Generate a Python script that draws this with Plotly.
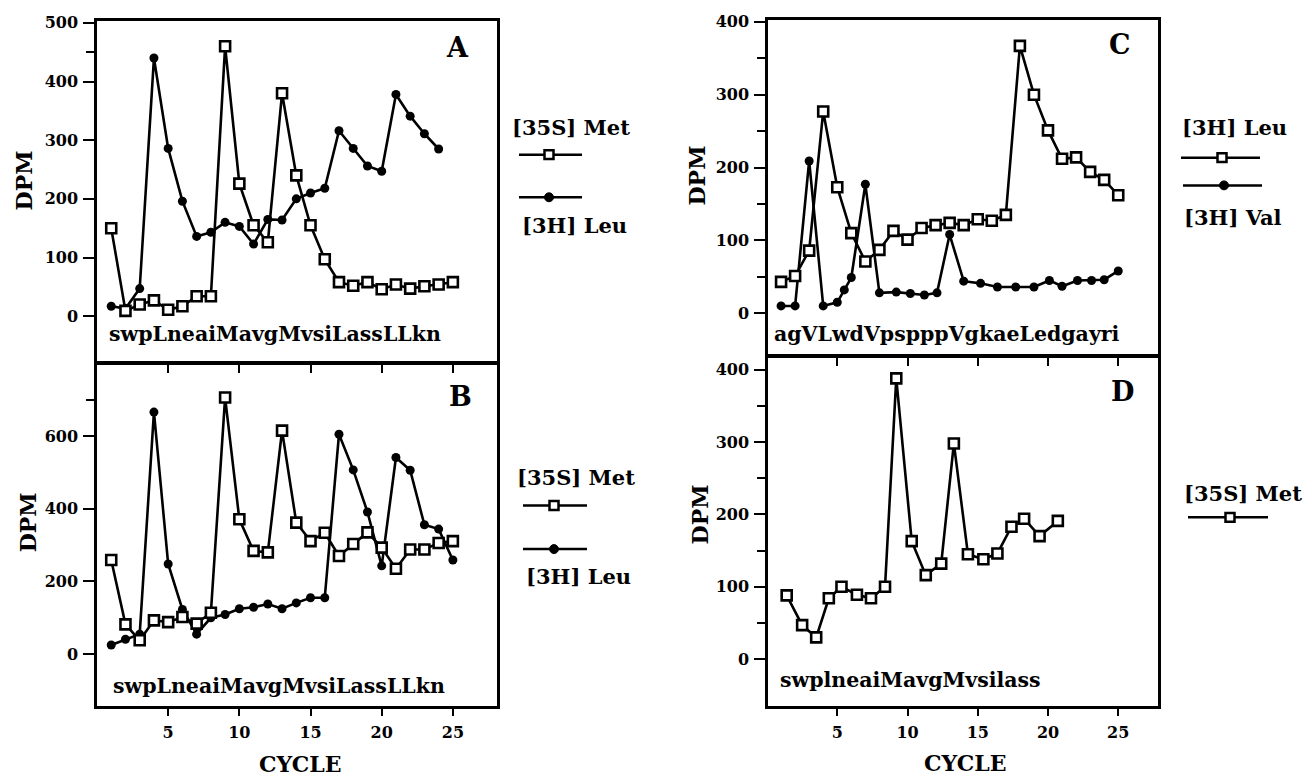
import plotly.graph_objects as go

W, H = 1312, 778
FONT = "DejaVu Serif"

# ---------------- data ----------------
# Panel A
a_met_cycle = list(range(1, 26))
a_met_dpm = [150, 9, 20, 27, 11, 17, 34, 34, 460, 226, 155, 126, 380, 240, 155, 97,
             58, 52, 58, 46, 54, 47, 51, 54, 58]
a_leu_cycle = list(range(1, 25))
a_leu_dpm = [17, 13, 47, 440, 286, 196, 136, 143, 160, 153, 123, 165, 164, 200, 210,
             218, 316, 286, 256, 247, 378, 341, 311, 285]
# Panel B
b_met_cycle = list(range(1, 26))
b_met_dpm = [259, 82, 38, 93, 88, 102, 84, 114, 706, 371, 284, 280, 615, 362, 311, 334,
             270, 303, 335, 293, 235, 288, 288, 306, 311]
b_leu_cycle = list(range(1, 26))
b_leu_dpm = [25, 41, 55, 666, 248, 123, 55, 100, 109, 125, 129, 138, 125, 141, 155, 155,
             605, 507, 391, 243, 541, 506, 356, 344, 259]
# Panel C
c_leu_cycle = list(range(1, 26))
c_leu_dpm = [43, 51, 86, 277, 173, 110, 71, 87, 113, 101, 117, 121, 124, 121, 129, 127,
             135, 367, 300, 251, 212, 214, 194, 183, 162]
c_val_cycle = [1, 2, 3, 4, 5, 5.5, 6, 7, 8, 9.2, 10.2, 11.2, 12.1, 13, 14, 15.2, 16.4,
               17.7, 19, 20.1, 21, 22.1, 23.1, 24, 25]
c_val_dpm = [10, 10, 209, 10, 15, 32, 49, 177, 28, 29, 27, 25, 28, 108, 44, 41, 36, 36,
             36, 45, 37, 45, 45, 46, 58]
# Panel D
d_met_cycle = [1.4, 2.5, 3.5, 4.4, 5.3, 6.4, 7.4, 8.4, 9.2, 10.3, 11.3, 12.4, 13.3, 14.3,
               15.4, 16.4, 17.4, 18.3, 19.4, 20.7]
d_met_dpm = [88, 47, 30, 84, 100, 89, 84, 100, 388, 163, 116, 132, 298, 145, 138, 146,
             183, 194, 170, 191]

x_ticks = [5, 10, 15, 20, 25]
seq_a = "swpLneaiMavgMvsiLassLLkn"
seq_b = "swpLneaiMavgMvsiLassLLkn"
seq_c = "agVLwdVpspppVgkaeLedgayri"
seq_d = "swplneaiMavgMvsilass"

# ---------------- layout helpers ----------------
def xd(px):
    return px / W

def yd(px):
    return 1 - px / H

# pixel boxes (left, right), (top, bottom); y ranges chosen so the value->pixel
# mapping matches the reference
def yrange(top, bottom, zero_px, px_per_unit):
    return ((zero_px - bottom) / px_per_unit, (zero_px - top) / px_per_unit)

panels = {
    "A": dict(x=(97, 497), y=(14, 358), yr=yrange(14, 358, 312, 0.592), xr=(0, 28.1),
              major=[0, 100, 200, 300, 400, 500], minor=[450]),
    "B": dict(x=(97, 497), y=(360.5, 705), yr=yrange(360.5, 705, 653, 0.3667), xr=(0, 28.1),
              major=[0, 200, 400, 600], minor=[700]),
    "C": dict(x=(768, 1158), y=(13, 351), yr=yrange(13, 351, 309, 0.735), xr=(0.07, 27.83),
              major=[0, 100, 200, 300, 400], minor=[50, 150, 250, 350]),
    "D": dict(x=(768, 1158), y=(353.5, 705), yr=yrange(353.5, 705, 658, 0.73), xr=(0.07, 27.83),
              major=[0, 100, 200, 300, 400], minor=[50, 150, 250, 350]),
}
axis_ids = {"A": "", "B": "2", "C": "3", "D": "4"}

fig = go.Figure()

line_style = dict(color="black", width=2.6)
sq_marker = dict(symbol="square", size=10, color="white", line=dict(color="black", width=2.6))
ci_marker = dict(symbol="circle", size=9, color="black", line=dict(color="black", width=0))

def add(panel, xs, ys, marker):
    k = axis_ids[panel]
    fig.add_trace(go.Scatter(x=xs, y=ys, mode="lines+markers", line=line_style,
                             marker=marker, xaxis="x" + k, yaxis="y" + k,
                             showlegend=False, hoverinfo="x+y"))

add("A", a_leu_cycle, a_leu_dpm, ci_marker)
add("A", a_met_cycle, a_met_dpm, sq_marker)
add("B", b_leu_cycle, b_leu_dpm, ci_marker)
add("B", b_met_cycle, b_met_dpm, sq_marker)
add("C", c_val_cycle, c_val_dpm, ci_marker)
add("C", c_leu_cycle, c_leu_dpm, sq_marker)
add("D", d_met_cycle, d_met_dpm, sq_marker)

layout = dict(width=W, height=H, margin=dict(l=0, r=0, t=0, b=0),
              paper_bgcolor="white", plot_bgcolor="white", autosize=False,
              font=dict(family=FONT, color="black", weight="bold"))

tickfont = dict(family=FONT, size=16, color="black", weight="bold")
for name, p in panels.items():
    k = axis_ids[name]
    show_xlabels = name in ("B", "D")
    layout["xaxis" + k] = dict(
        domain=[xd(p["x"][0]), xd(p["x"][1])], range=list(p["xr"]),
        anchor="y" + k, showgrid=False, zeroline=False,
        showline=True, linecolor="black", linewidth=2.5, mirror=True,
        ticks="outside", ticklen=8, tickwidth=2, tickcolor="black",
        tickvals=x_ticks, showticklabels=show_xlabels, tickfont=tickfont,
        ticklabelstandoff=2,
    )
    layout["yaxis" + k] = dict(
        domain=[yd(p["y"][1]), yd(p["y"][0])], range=list(p["yr"]),
        anchor="x" + k, showgrid=False, zeroline=False,
        showline=True, linecolor="black", linewidth=2.5, mirror=True,
        ticks="outside", ticklen=11, tickwidth=2, tickcolor="black",
        tickvals=p["major"], tickfont=tickfont, ticklabelstandoff=2,
        minor=dict(tickvals=p["minor"], ticks="outside", ticklen=8, tickwidth=2,
                   tickcolor="black"),
    )

annotations = []

def ann(text, x, y, size, xanchor="center", angle=0):
    annotations.append(dict(text=text, x=xd(x), y=yd(y), xref="paper", yref="paper",
                            xanchor=xanchor, yanchor="middle", showarrow=False,
                            textangle=angle,
                            font=dict(family=FONT, size=size, color="black", weight="bold")))

# panel letters
ann("A", 457, 41, 27)
ann("B", 460, 393, 27)
ann("C", 1120, 38, 27)
ann("D", 1122, 388, 27)
# sequences
ann(seq_a, 107, 330, 20.5, xanchor="left")
ann(seq_b, 111, 685, 20.5, xanchor="left")
ann(seq_c, 772, 330, 20.5, xanchor="left")
ann(seq_d, 778, 679, 20.5, xanchor="left")
# axis titles
ann("DPM", 24, 175, 22, angle=-90)
ann("DPM", 28, 520, 22, angle=-90)
ann("DPM", 697, 170, 22, angle=-90)
ann("DPM", 700, 512, 22, angle=-90)
ann("CYCLE", 300, 764, 22)
ann("CYCLE", 965, 763, 22)
# legend texts
ann("[35S] Met", 571, 122, 21)
ann("[3H] Leu", 574, 220, 21)
ann("[35S] Met", 576, 475, 21)
ann("[3H] Leu", 578, 575, 21)
ann("[3H] Leu", 1234, 122, 21)
ann("[3H] Val", 1233, 212, 21)
ann("[35S] Met", 1243, 491, 21)

layout["annotations"] = annotations

# legend keys (paper-space shapes)
shapes = []

def key(x0, x1, xm, y, kind):
    shapes.append(dict(type="line", xref="paper", yref="paper", x0=xd(x0), x1=xd(x1),
                       y0=yd(y), y1=yd(y), line=dict(color="black", width=2.5)))
    r = 4.5
    if kind == "sq":
        shapes.append(dict(type="rect", xref="paper", yref="paper",
                           x0=xd(xm - r), x1=xd(xm + r), y0=yd(y + r), y1=yd(y - r),
                           fillcolor="white", line=dict(color="black", width=2.5)))
    else:
        shapes.append(dict(type="circle", xref="paper", yref="paper",
                           x0=xd(xm - r), x1=xd(xm + r), y0=yd(y + r), y1=yd(y - r),
                           fillcolor="black", line=dict(color="black", width=1)))

key(519, 582, 549, 149, "sq")
key(519, 582, 549, 192, "ci")
key(523, 587, 554, 503, "sq")
key(523, 587, 554, 547, "ci")
key(1181, 1260, 1222, 152, "sq")
key(1183, 1262, 1224, 180, "ci")
key(1188, 1268, 1230, 515, "sq")
layout["shapes"] = shapes

fig.update_layout(**layout)
fig.write_html(
    "out.html",
    config={"displayModeBar": False},
    post_script="document.body.style.margin='0px';document.body.style.padding='0px';"
                "document.body.style.overflow='hidden';",
)
